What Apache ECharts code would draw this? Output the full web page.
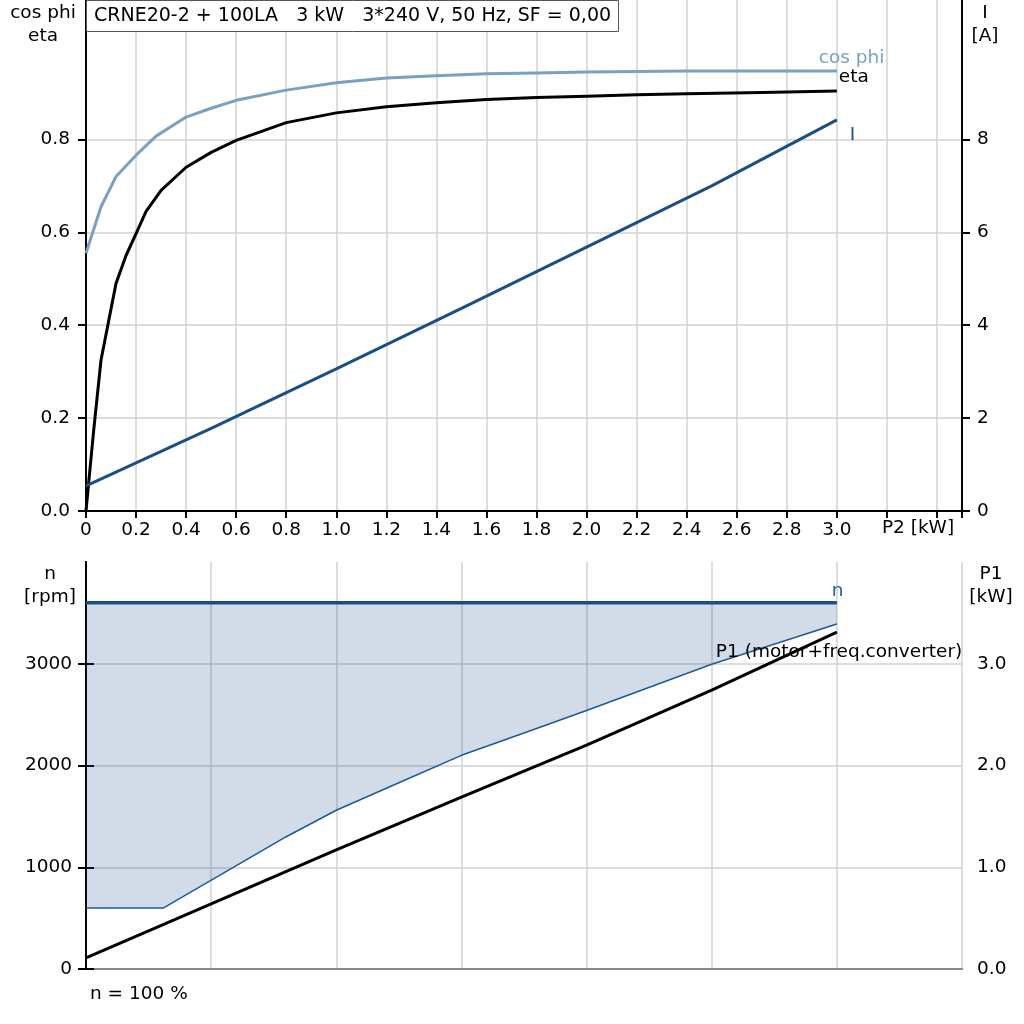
<!DOCTYPE html>
<html>
<head>
<meta charset="utf-8">
<title>CRNE20-2 + 100LA</title>
<script src="https://cdn.jsdelivr.net/npm/echarts@6.0.0/dist/echarts.min.js"></script>
<style>
  html, body { margin: 0; padding: 0; background: #fff; }
  #main { width: 1024px; height: 1024px; }
</style>
</head>
<body>
<div id="main"></div>
<script type="text/javascript">
// top chart: cos phi / eta (left axis), I (right axis) against P2 [kW]
var cosP2  = [0, 0.06, 0.12, 0.2, 0.28, 0.4, 0.5, 0.6, 0.8, 1.0, 1.2, 1.4, 1.6, 1.8, 2.0, 2.4, 3.0];
var cosPhi = [0.555, 0.655, 0.72, 0.766, 0.807, 0.848, 0.867, 0.884, 0.906, 0.922, 0.932, 0.937, 0.941, 0.943, 0.945, 0.947, 0.947];

var etaP2  = [0, 0.03, 0.06, 0.12, 0.16, 0.2, 0.24, 0.3, 0.4, 0.5, 0.6, 0.8, 1.0, 1.2, 1.4, 1.6, 1.8, 2.0, 2.2, 2.4, 2.7, 3.0];
var eta    = [0, 0.17, 0.325, 0.49, 0.55, 0.597, 0.645, 0.69, 0.74, 0.772, 0.798, 0.836, 0.857, 0.87, 0.879, 0.886, 0.89, 0.893, 0.896, 0.898, 0.901, 0.904];

var curP2  = [0, 0.5, 1.0, 1.5, 2.0, 2.5, 3.0];
var current = [0.54, 1.78, 3.06, 4.36, 5.68, 7.0, 8.42];

// bottom chart: speed n [rpm] and P1 [kW]
var nSpeed = 3600;
var nP2    = [0, 3.0];
var minP2  = [0, 0.31, 0.8, 1.0, 1.25, 1.5, 1.75, 2.0, 2.5, 3.0];
var minSpeed = [600, 600, 1300, 1560, 1830, 2100, 2320, 2540, 2995, 3390];
var p1P2   = [0, 0.5, 1.0, 1.5, 2.0, 2.5, 3.0];
var p1     = [0.11, 0.64, 1.17, 1.69, 2.2, 2.74, 3.31];

// tick labels
var p2Labels  = [0, 0.2, 0.4, 0.6, 0.8, 1.0, 1.2, 1.4, 1.6, 1.8, 2.0, 2.2, 2.4, 2.6, 2.8, 3.0];
var effLabels = [0, 0.2, 0.4, 0.6, 0.8];
var curLabels = [0, 2, 4, 6, 8];
var rpmLabels = [0, 1000, 2000, 3000];
var p1Labels  = [0, 1, 2, 3];

function pairs(xs, ys) {
    return xs.map(function (x, i) { return [x, ys[i]]; });
}
// value first, so that the stack runs on the y dimension
function pairsYX(xs, ys) {
    return xs.map(function (x, i) { return [ys[i], x]; });
}

var FONT = '"DejaVu Sans", Verdana, sans-serif';
var FS = 18.5;
var gridLine = { show: true, lineStyle: { color: '#d2d2d2', width: 1.5 } };
var blackLine = { show: true, lineStyle: { color: '#000', width: 2 } };
var lbl = { color: '#000', fontSize: FS, fontFamily: FONT };
function plain(v) { return String(v); }

var myChart = echarts.init(document.getElementById('main'));

var option = {
    animation: false,
    backgroundColor: '#fff',
    title: {
        text: 'CRNE20-2 + 100LA   3 kW   3*240 V, 50 Hz, SF = 0,00',
        left: 86,
        top: 0,
        padding: [7, 8, 6, 8],
        borderColor: '#555',
        borderWidth: 1,
        backgroundColor: '#fff',
        textStyle: { color: '#000', fontSize: 19, fontWeight: 'normal', fontFamily: FONT }
    },
    grid: [
        { left: 86, right: 62, top: 0, height: 511 },
        { left: 86, right: 62, top: 562, height: 407 }
    ],
    xAxis: [
        {
            gridIndex: 0, type: 'value', min: 0, max: 3.5, interval: 0.2,
            axisLine: blackLine,
            axisTick: { show: true, length: 7, lineStyle: { color: '#000', width: 2 } },
            axisLabel: Object.assign({
                margin: 10,
                customValues: p2Labels,
                formatter: function (v) { return v === 0 ? '0' : v.toFixed(1); }
            }, lbl),
            splitLine: gridLine
        },
        {
            gridIndex: 1, type: 'value', min: 0, max: 3.5, interval: 0.5,
            axisLine: { show: true, lineStyle: { color: '#888', width: 2 } },
            axisTick: { show: false },
            axisLabel: { show: false },
            splitLine: gridLine
        },
        {
            gridIndex: 1, type: 'value', position: 'top', min: 0, max: 3.5, interval: 0.5,
            axisLine: { show: true, lineStyle: { color: '#888', width: 2 } },
            axisTick: { show: false },
            axisLabel: { show: false },
            splitLine: { show: false }
        }
    ],
    yAxis: [
        {
            gridIndex: 0, type: 'value', position: 'left', min: 0, max: 1.1, interval: 0.1,
            axisLine: blackLine,
            axisTick: { show: true, length: 8, customValues: effLabels, lineStyle: { color: '#000', width: 2 } },
            axisLabel: Object.assign({
                margin: 16,
                customValues: effLabels,
                formatter: function (v) { return v.toFixed(1); }
            }, lbl),
            splitLine: gridLine
        },
        {
            gridIndex: 0, type: 'value', position: 'right', min: 0, max: 11, interval: 1,
            axisLine: blackLine,
            axisTick: { show: true, length: 8, customValues: curLabels, lineStyle: { color: '#000', width: 2 } },
            axisLabel: Object.assign({ margin: 15, customValues: curLabels, formatter: plain }, lbl),
            splitLine: { show: false }
        },
        {
            gridIndex: 1, type: 'value', position: 'left', min: 0, max: 4000, interval: 500,
            axisLine: blackLine,
            axisTick: { show: true, length: 8, customValues: rpmLabels, lineStyle: { color: '#000', width: 2 } },
            axisLabel: Object.assign({ margin: 14, customValues: rpmLabels, formatter: plain }, lbl),
            splitLine: gridLine
        },
        {
            gridIndex: 1, type: 'value', position: 'right', min: 0, max: 4, interval: 0.5,
            axisLine: blackLine,
            axisTick: { show: true, length: 8, customValues: p1Labels, lineStyle: { color: '#000', width: 2 } },
            axisLabel: Object.assign({
                margin: 15,
                customValues: p1Labels,
                formatter: function (v) { return v.toFixed(1); }
            }, lbl),
            splitLine: { show: false }
        }
    ],
    series: [
        {
            name: 'cos phi', type: 'line', xAxisIndex: 0, yAxisIndex: 0,
            showSymbol: false, z: 3,
            lineStyle: { color: '#7aa0c2', width: 3 },
            endLabel: { show: true, formatter: 'cos phi', distance: 0, offset: [-18, -13],
                color: '#7aa0c2', fontSize: FS, fontFamily: FONT },
            data: pairs(cosP2, cosPhi)
        },
        {
            name: 'eta', type: 'line', xAxisIndex: 0, yAxisIndex: 0,
            showSymbol: false, z: 3,
            lineStyle: { color: '#000', width: 3 },
            endLabel: { show: true, formatter: 'eta', distance: 0, offset: [2, -14],
                color: '#000', fontSize: FS, fontFamily: FONT },
            data: pairs(etaP2, eta)
        },
        {
            name: 'I', type: 'line', xAxisIndex: 0, yAxisIndex: 1,
            showSymbol: false, z: 3,
            lineStyle: { color: '#1a4f86', width: 3 },
            endLabel: { show: true, formatter: 'I', distance: 0, offset: [13, 15],
                color: '#1a4f86', fontSize: FS, fontFamily: FONT },
            data: pairs(curP2, current)
        },
        // lower limit of speed band
        {
            name: 'n min', type: 'line', xAxisIndex: 1, yAxisIndex: 2,
            showSymbol: false, stack: 'band', z: 3,
            encode: { x: 1, y: 0 },
            lineStyle: { color: '#1d5a92', width: 1.5 },
            data: pairsYX(minP2, minSpeed)
        },
        // shaded band up to n
        {
            name: 'band', type: 'line', xAxisIndex: 1, yAxisIndex: 2,
            showSymbol: false, stack: 'band', z: 2,
            encode: { x: 1, y: 0 },
            lineStyle: { width: 0 },
            areaStyle: { color: 'rgba(23,79,140,0.2)', opacity: 1 },
            data: pairsYX(minP2, minSpeed.map(function (v) { return nSpeed - v; }))
        },
        {
            name: 'n', type: 'line', xAxisIndex: 1, yAxisIndex: 2,
            showSymbol: false, z: 4,
            lineStyle: { color: '#174f86', width: 3.5 },
            endLabel: { show: true, formatter: 'n', distance: 0, offset: [-5, -12],
                color: '#2a6099', fontSize: FS, fontFamily: FONT },
            data: pairs(nP2, nP2.map(function () { return nSpeed; }))
        },
        {
            name: 'P1', type: 'line', xAxisIndex: 1, yAxisIndex: 3,
            showSymbol: false, z: 4,
            lineStyle: { color: '#000', width: 3 },
            endLabel: { show: true, formatter: 'P1 (motor+freq.converter)', distance: 0, offset: [-121, 20],
                color: '#000', fontSize: FS, fontFamily: FONT },
            data: pairs(p1P2, p1)
        }
    ],
    graphic: [
        { type: 'text', x: 43, y: 2, style: { text: 'cos phi\neta', align: 'center', lineHeight: 23, fill: '#000', font: FS + 'px ' + FONT } },
        { type: 'text', x: 985, y: 2, style: { text: 'I\n[A]', align: 'center', lineHeight: 23, fill: '#000', font: FS + 'px ' + FONT } },
        { type: 'text', x: 918, y: 519, style: { text: 'P2 [kW]', align: 'center', fill: '#000', font: FS + 'px ' + FONT } },
        { type: 'text', x: 50, y: 563, style: { text: 'n\n[rpm]', align: 'center', lineHeight: 23, fill: '#000', font: FS + 'px ' + FONT } },
        { type: 'text', x: 991, y: 563, style: { text: 'P1\n[kW]', align: 'center', lineHeight: 23, fill: '#000', font: FS + 'px ' + FONT } },
        { type: 'text', x: 90, y: 985, style: { text: 'n = 100 %', fill: '#000', font: FS + 'px ' + FONT } }
    ]
};

myChart.setOption(option);
</script>
</body>
</html>
